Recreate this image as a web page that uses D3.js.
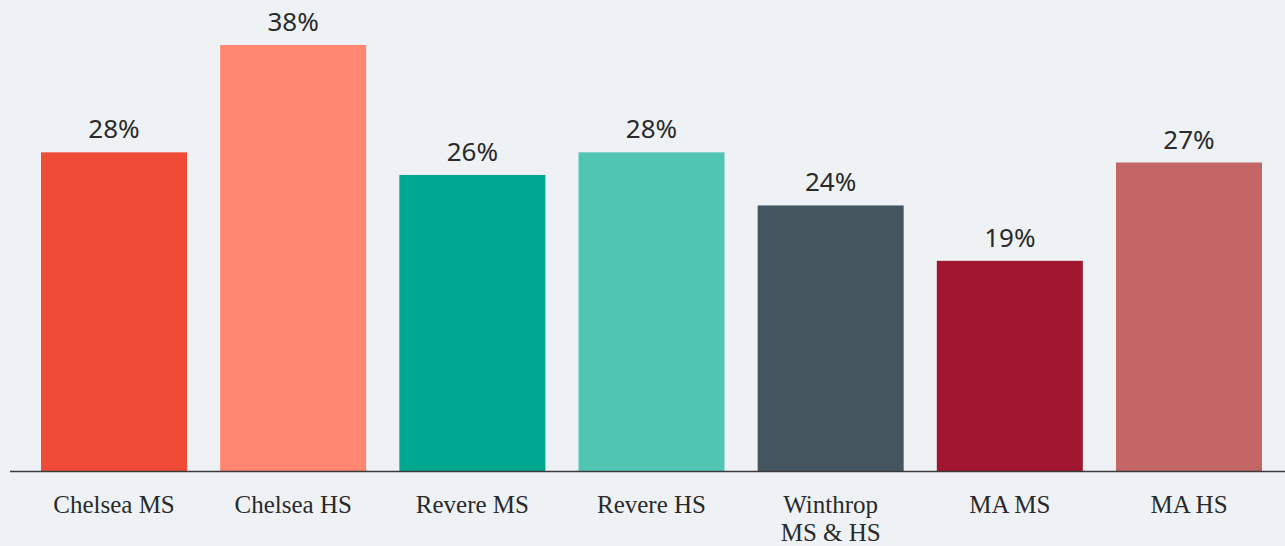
<!DOCTYPE html>
<html>
<head>
<meta charset="utf-8">
<script src="https://cdn.jsdelivr.net/npm/d3@7/dist/d3.min.js"></script>
<style>
  html, body { margin: 0; padding: 0; background: #eef2f5; }
  svg { display: block; }
</style>
</head>
<body>
<svg id="chart" width="1285" height="546"></svg>
<script>
const categories = ["Chelsea MS", "Chelsea HS", "Revere MS", "Revere HS", "Winthrop\nMS & HS", "MA MS", "MA HS"];
const values = [28.2, 37.7, 26.2, 28.2, 23.5, 18.6, 27.3];
const valueLabels = ["28%", "38%", "26%", "28%", "24%", "19%", "27%"];
const colors = ["#ef4b37", "#ff8670", "#00a88f", "#50c5b3", "#455560", "#a0172f", "#c56666"];

const svg = d3.select("#chart");
const W = 1285, H = 546;
const baseY = 471;

svg.append("rect").attr("width", W).attr("height", H).attr("fill", "#eef2f5");

const x = d3.scaleBand().domain(categories).range([41, 1262]).paddingInner(0.185).paddingOuter(0);
const y = d3.scaleLinear().domain([0, 40]).range([baseY, baseY - 452]);

const data = categories.map((c, i) => ({ c, v: values[i], label: valueLabels[i], color: colors[i] }));

svg.append("g").selectAll("rect").data(data).join("rect")
  .attr("x", d => x(d.c))
  .attr("y", d => y(d.v))
  .attr("width", x.bandwidth())
  .attr("height", d => y(0) - y(d.v))
  .attr("fill", d => d.color);

svg.append("g").selectAll("text").data(data).join("text")
  .attr("x", d => x(d.c) + x.bandwidth() / 2)
  .attr("y", d => y(d.v) - 14)
  .attr("text-anchor", "middle")
  .attr("font-family", "'Noto Sans', 'Open Sans', sans-serif")
  .attr("font-size", 26)
  .attr("fill", "#2a2a2a")
  .text(d => d.label);

// axis
const axis = d3.axisBottom(x).tickSize(0).tickPadding(0);
const gAxis = svg.append("g").attr("transform", `translate(0,${baseY})`).call(axis);
gAxis.select(".domain").remove();
gAxis.selectAll(".tick text").remove();
gAxis.selectAll(".tick").each(function(d) {
  const lines = d.split("\n");
  const t = d3.select(this).append("text")
    .attr("text-anchor", "middle")
    .attr("font-family", "'Liberation Serif', 'DejaVu Serif', serif")
    .attr("font-size", 25)
    .attr("fill", "#2a2a2a")
    .attr("y", 42);
  lines.forEach((l, i) => {
    t.append("tspan").attr("x", 0).attr("dy", i === 0 ? 0 : 28).text(l);
  });
});

svg.append("line")
  .attr("x1", 10).attr("x2", W)
  .attr("y1", baseY + 0.5).attr("y2", baseY + 0.5)
  .attr("stroke", "#3a3a3a").attr("stroke-width", 1.5);
</script>
</body>
</html>
